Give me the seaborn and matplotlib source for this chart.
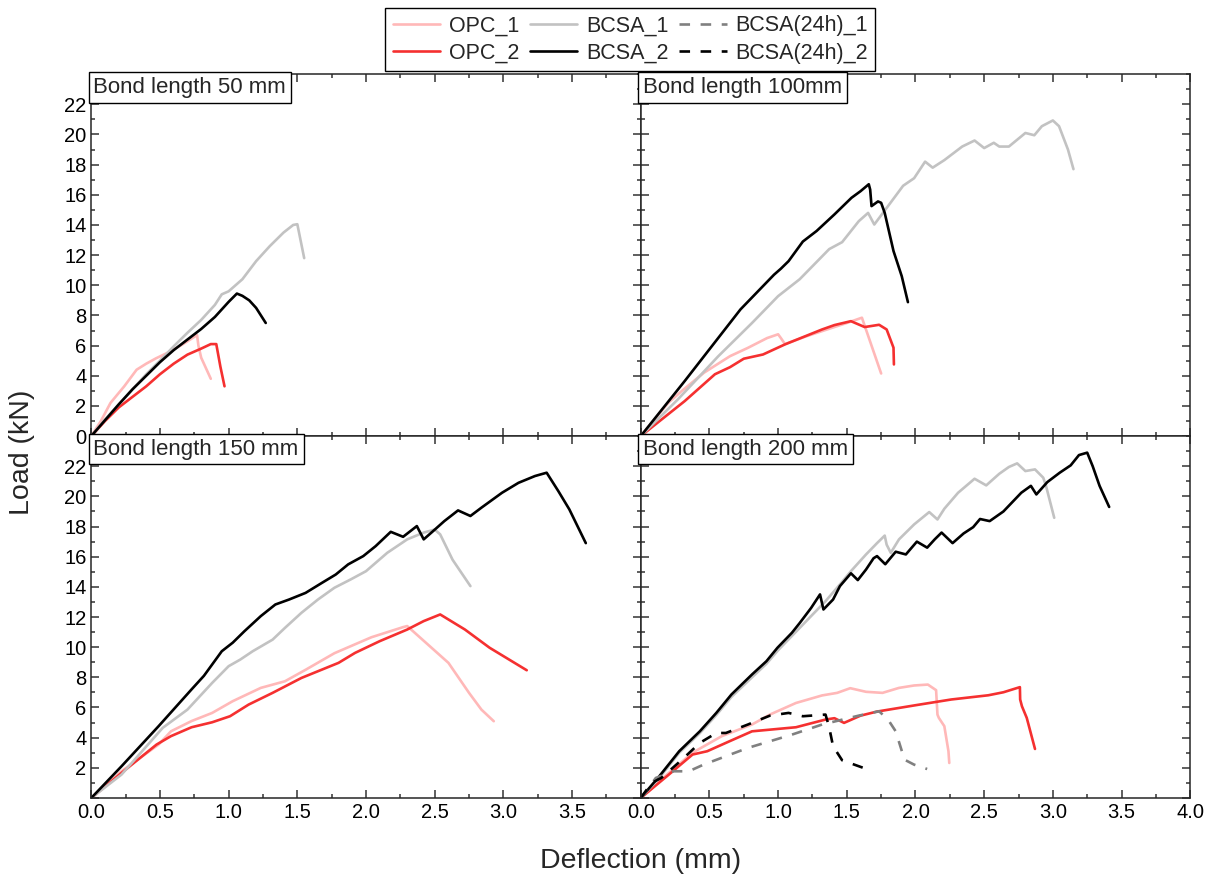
import numpy as np
import pandas as pd
import seaborn as sns
import matplotlib.pyplot as plt
from matplotlib.lines import Line2D
from matplotlib.ticker import MultipleLocator

# ---- data (deflection mm, load kN) ----
# Bond length 50 mm
x50_opc1 = [0, 0.07, 0.14, 0.24, 0.33, 0.4, 0.47, 0.55, 0.65, 0.72, 0.77, 0.78, 0.8, 0.83, 0.87]
y50_opc1 = [0, 1.0, 2.2, 3.3, 4.4, 4.8, 5.15, 5.5, 6.0, 6.4, 6.7, 6.0, 5.2, 4.6, 3.8]
x50_opc2 = [0, 0.1, 0.2, 0.3, 0.4, 0.5, 0.6, 0.7, 0.8, 0.87, 0.91, 0.94, 0.97]
y50_opc2 = [0, 1.0, 1.9, 2.6, 3.3, 4.1, 4.8, 5.4, 5.8, 6.1, 6.1, 4.6, 3.3]
x50_bcsa1 = [0, 0.1, 0.2, 0.3, 0.4, 0.5, 0.6, 0.7, 0.8, 0.9, 0.95, 1.0, 1.05, 1.1, 1.2, 1.3, 1.4, 1.47, 1.5, 1.53, 1.55]
y50_bcsa1 = [0, 1.1, 2.1, 3.1, 4.1, 5.0, 5.95, 6.85, 7.7, 8.7, 9.4, 9.6, 10.0, 10.4, 11.6, 12.6, 13.5, 14.0, 14.05, 12.7, 11.8]
x50_bcsa2 = [0, 0.1, 0.2, 0.3, 0.4, 0.5, 0.6, 0.7, 0.8, 0.9, 0.95, 1.0, 1.06, 1.1, 1.15, 1.2, 1.27]
y50_bcsa2 = [0, 1.05, 2.1, 3.1, 4.0, 4.9, 5.7, 6.4, 7.1, 7.9, 8.4, 8.9, 9.45, 9.3, 9.0, 8.5, 7.5]

# Bond length 100 mm
x100_opc1 = [0, 0.1, 0.2, 0.3, 0.46, 0.65, 0.78, 0.92, 1.0, 1.02, 1.05, 1.2, 1.35, 1.5, 1.61, 1.68, 1.75]
y100_opc1 = [0, 1.1, 2.2, 3.0, 4.2, 5.3, 5.85, 6.5, 6.75, 6.5, 6.1, 6.6, 7.05, 7.5, 7.85, 6.0, 4.15]
x100_opc2 = [0, 0.32, 0.54, 0.65, 0.75, 0.89, 1.05, 1.32, 1.41, 1.53, 1.63, 1.735, 1.79, 1.84, 1.843]
y100_opc2 = [0, 2.32, 4.1, 4.57, 5.13, 5.41, 6.08, 7.07, 7.36, 7.62, 7.23, 7.38, 7.07, 5.86, 4.75]
x100_bcsa1 = [0, 0.27, 0.565, 0.81, 1.0, 1.157, 1.372, 1.466, 1.587, 1.655, 1.70, 1.80, 1.91, 1.99, 2.07, 2.125,
              2.21, 2.34, 2.43, 2.50, 2.57, 2.61, 2.68, 2.80, 2.865, 2.92, 3.0, 3.045, 3.11, 3.15]
y100_bcsa1 = [0, 2.43, 5.3, 7.5, 9.28, 10.4, 12.4, 12.86, 14.25, 14.8, 14.03, 15.25, 16.6, 17.1, 18.2, 17.8,
              18.3, 19.2, 19.6, 19.1, 19.45, 19.2, 19.2, 20.1, 19.95, 20.55, 20.93, 20.55, 19.0, 17.7]
x100_bcsa2 = [0, 0.32, 0.726, 0.97, 1.02, 1.076, 1.18, 1.28, 1.41, 1.534, 1.60, 1.66, 1.67, 1.68, 1.727, 1.75,
              1.776, 1.84, 1.90, 1.945]
y100_bcsa2 = [0, 3.65, 8.4, 10.7, 11.1, 11.6, 12.9, 13.6, 14.7, 15.8, 16.24, 16.7, 16.35, 15.25, 15.56, 15.47,
              14.8, 12.27, 10.6, 8.88]

# Bond length 150 mm
x150_opc1 = [0, 0.22, 0.49, 0.58, 0.73, 0.88, 1.03, 1.234, 1.41, 1.56, 1.77, 2.04, 2.27, 2.30, 2.60, 2.75, 2.84, 2.93]
y150_opc1 = [0, 1.77, 3.54, 4.42, 5.1, 5.64, 6.42, 7.3, 7.74, 8.5, 9.6, 10.66, 11.33, 11.4, 8.96, 6.97, 5.86, 5.09]
x150_opc2 = [0, 0.22, 0.475, 0.58, 0.73, 0.88, 1.01, 1.145, 1.32, 1.53, 1.80, 1.92, 2.10, 2.30, 2.42, 2.54, 2.72, 2.90, 3.17]
y150_opc2 = [0, 1.66, 3.54, 4.1, 4.69, 5.02, 5.42, 6.19, 6.97, 7.96, 8.96, 9.62, 10.4, 11.17, 11.73, 12.17, 11.17, 9.96, 8.47]
x150_bcsa1 = [0, 0.22, 0.52, 0.70, 0.88, 1.0, 1.085, 1.175, 1.32, 1.41, 1.53, 1.65, 1.77, 1.89, 2.0, 2.155, 2.30,
              2.42, 2.50, 2.54, 2.63, 2.76]
y150_bcsa1 = [0, 1.55, 4.65, 5.86, 7.63, 8.74, 9.18, 9.73, 10.5, 11.28, 12.28, 13.16, 13.94, 14.5, 15.04, 16.26, 17.15,
              17.6, 17.8, 17.48, 15.8, 14.05]
x150_bcsa2 = [0, 0.22, 0.49, 0.73, 0.82, 0.95, 1.03, 1.115, 1.234, 1.34, 1.44, 1.56, 1.68, 1.78, 1.87, 1.98, 2.07,
              2.18, 2.27, 2.37, 2.42, 2.48, 2.57, 2.67, 2.76, 2.84, 2.99, 3.11, 3.23, 3.315, 3.40, 3.48, 3.60]
y150_bcsa2 = [0, 2.1, 4.76, 7.2, 8.1, 9.73, 10.3, 11.06, 12.06, 12.83, 13.16, 13.6, 14.27, 14.82, 15.49, 16.04, 16.7,
              17.65, 17.32, 18.03, 17.15, 17.63, 18.36, 19.07, 18.7, 19.25, 20.24, 20.9, 21.35, 21.57, 20.35, 19.14, 16.9]

# Bond length 200 mm
x200_opc1 = [0, 0.19, 0.377, 0.59, 0.81, 0.94, 1.13, 1.32, 1.43, 1.525, 1.64, 1.76, 1.88, 1.99, 2.09, 2.15, 2.16,
             2.17, 2.21, 2.24, 2.246]
y200_opc1 = [0, 1.55, 3.0, 4.1, 4.87, 5.53, 6.3, 6.8, 6.97, 7.28, 7.04, 6.97, 7.3, 7.46, 7.52, 7.15, 5.53,
             5.31, 4.76, 3.1, 2.32]
x200_opc2 = [0, 0.19, 0.377, 0.484, 0.646, 0.81, 1.13, 1.345, 1.41, 1.48, 1.60, 1.72, 2.0, 2.26, 2.53, 2.64, 2.76,
             2.762, 2.775, 2.81, 2.87]
y200_opc2 = [0, 1.44, 2.88, 3.1, 3.76, 4.42, 4.69, 5.2, 5.29, 4.98, 5.46, 5.73, 6.15, 6.53, 6.81, 7.01, 7.35,
             6.53, 6.08, 5.31, 3.25]
x200_bcsa1 = [0, 0.135, 0.28, 0.43, 0.55, 0.66, 0.81, 0.915, 1.0, 1.17, 1.345, 1.45, 1.53, 1.64, 1.72, 1.776, 1.79,
              1.82, 1.88, 1.99, 2.10, 2.16, 2.21, 2.31, 2.43, 2.515, 2.61, 2.68, 2.74, 2.80, 2.87, 2.93, 2.95, 3.01]
y200_bcsa1 = [0, 1.33, 3.0, 4.3, 5.5, 6.7, 8.0, 8.9, 9.8, 11.4, 13.05, 14.16, 15.04, 16.15, 16.9, 17.4, 16.8,
              16.26, 17.15, 18.14, 18.96, 18.47, 19.18, 20.24, 21.17, 20.73, 21.5, 21.95, 22.19, 21.68, 21.79, 21.24, 20.7, 18.58]
x200_bcsa2 = [0, 0.135, 0.28, 0.43, 0.55, 0.66, 0.81, 0.915, 0.995, 1.10, 1.157, 1.24, 1.305, 1.33, 1.40, 1.45,
              1.53, 1.58, 1.64, 1.695, 1.72, 1.78, 1.856, 1.93, 2.01, 2.085, 2.14, 2.19, 2.27, 2.35, 2.42, 2.47,
              2.54, 2.64, 2.77, 2.84, 2.88, 2.96, 3.05, 3.13, 3.19, 3.25, 3.29, 3.34, 3.41]
y200_bcsa2 = [0, 1.44, 3.1, 4.42, 5.64, 6.86, 8.19, 9.07, 9.96, 10.95, 11.6, 12.6, 13.5, 12.5, 13.16, 14.05,
              14.9, 14.45, 15.15, 15.9, 16.04, 15.5, 16.33, 16.15, 17.0, 16.6, 17.15, 17.6, 16.9, 17.54, 17.96, 18.5,
              18.36, 19.0, 20.24, 20.7, 20.13, 20.95, 21.57, 22.06, 22.74, 22.9, 22.0, 20.7, 19.3]
x200_24h1 = [0, 0.11, 0.24, 0.35, 0.457, 0.78, 1.10, 1.32, 1.587, 1.735, 1.80, 1.856, 1.92, 1.99, 2.085]
y200_24h1 = [0, 1.33, 1.77, 1.77, 2.21, 3.32, 4.2, 4.87, 5.46, 5.75, 5.2, 4.42, 2.54, 2.21, 1.92]
x200_24h2 = [0, 0.08, 0.15, 0.30, 0.43, 0.55, 0.62, 0.78, 0.94, 1.076, 1.18, 1.345, 1.37, 1.40, 1.466, 1.668]
y200_24h2 = [0, 1.0, 1.33, 2.54, 3.65, 4.31, 4.31, 4.87, 5.46, 5.64, 5.42, 5.53, 4.76, 3.43, 2.5, 1.84]

titles = ['Bond length 50 mm', 'Bond length 100mm', 'Bond length 150 mm', 'Bond length 200 mm']
labels = ['OPC_1', 'OPC_2', 'BCSA_1', 'BCSA_2', 'BCSA(24h)_1', 'BCSA(24h)_2']
xticks = [0.0, 0.5, 1.0, 1.5, 2.0, 2.5, 3.0, 3.5, 4.0]
yticks = list(range(0, 23, 2))

panels = [
    {'OPC_1': (x50_opc1, y50_opc1), 'OPC_2': (x50_opc2, y50_opc2),
     'BCSA_1': (x50_bcsa1, y50_bcsa1), 'BCSA_2': (x50_bcsa2, y50_bcsa2)},
    {'OPC_1': (x100_opc1, y100_opc1), 'OPC_2': (x100_opc2, y100_opc2),
     'BCSA_1': (x100_bcsa1, y100_bcsa1), 'BCSA_2': (x100_bcsa2, y100_bcsa2)},
    {'OPC_1': (x150_opc1, y150_opc1), 'OPC_2': (x150_opc2, y150_opc2),
     'BCSA_1': (x150_bcsa1, y150_bcsa1), 'BCSA_2': (x150_bcsa2, y150_bcsa2)},
    {'OPC_1': (x200_opc1, y200_opc1), 'OPC_2': (x200_opc2, y200_opc2),
     'BCSA_1': (x200_bcsa1, y200_bcsa1), 'BCSA_2': (x200_bcsa2, y200_bcsa2),
     'BCSA(24h)_1': (x200_24h1, y200_24h1), 'BCSA(24h)_2': (x200_24h2, y200_24h2)},
]

styles = {
    'OPC_1': dict(color='#FFB8B8', ls='-'),
    'OPC_2': dict(color='#F53030', ls='-'),
    'BCSA_1': dict(color='#C2C2C2', ls='-'),
    'BCSA_2': dict(color='black', ls='-'),
    'BCSA(24h)_1': dict(color='#808080', ls=(0, (4, 4))),
    'BCSA(24h)_2': dict(color='black', ls=(0, (4, 4))),
}
LW = 1.9

sns.set_theme(style='ticks')
plt.rcParams['font.family'] = ['Liberation Sans', 'DejaVu Sans']
plt.rcParams['axes.linewidth'] = 1.1

fig, axes = plt.subplots(2, 2, figsize=(12.17, 8.83), dpi=100)
fig.subplots_adjust(left=0.075, right=0.978, bottom=0.0963, top=0.916, hspace=0, wspace=0)

for i, ax in enumerate(axes.flat):
    for name, (xs, ys) in panels[i].items():
        st = styles[name]
        df = pd.DataFrame({'x': xs, 'y': ys})
        sns.lineplot(data=df, x='x', y='y', sort=False, estimator=None, ax=ax,
                     color=st['color'], linestyle=st['ls'], linewidth=LW)
    ax.set_xlim(0, 4.0)
    ax.set_ylim(0, 24)
    ax.set_xlabel('')
    ax.set_ylabel('')
    ax.set_xticks(xticks)
    ax.xaxis.set_minor_locator(MultipleLocator(0.25))
    ax.set_yticks(yticks)
    ax.yaxis.set_minor_locator(MultipleLocator(1))
    ax.tick_params(which='both', direction='in', top=True, right=True, labelsize=14.5, width=1.1,
                   color='#333333', labelcolor='black')
    ax.tick_params(which='major', length=6)
    ax.tick_params(which='minor', length=3)
    row, col = divmod(i, 2)
    xl = ['%.1f' % v for v in xticks]
    yl = [str(v) for v in yticks]
    if row == 0:
        xl = [''] * len(xticks)
    if col == 1:
        yl = [''] * len(yticks)
    if row == 1 and col == 0:
        xl[-1] = ''   # 4.0 would collide with the next panel's 0.0
        yl[0] = ''    # 0 would collide with the panel above
    ax.set_xticklabels(xl)
    ax.set_yticklabels(yl)
    ax.text(0.004, 0.993, titles[i], transform=ax.transAxes, ha='left', va='top', fontsize=16,
            bbox=dict(boxstyle='square,pad=0.22', fc='white', ec='black', lw=1.0), zorder=5)

fig.text(0.018, 0.488, 'Load (kN)', rotation=90, ha='center', va='center', fontsize=20.5)
fig.text(0.526, 0.025, 'Deflection (mm)', ha='center', va='center', fontsize=20.5)

handles = [Line2D([0], [0], color=styles[n]['color'], linestyle=styles[n]['ls'], linewidth=LW) for n in labels]
fig.legend(handles, labels, loc='upper center', bbox_to_anchor=(0.518, 0.991), ncol=3, fontsize=15.5,
           frameon=True, fancybox=False, edgecolor='black', framealpha=1, handlelength=2.2,
           columnspacing=0.5, labelspacing=0.3, borderpad=0.35, handletextpad=0.4, borderaxespad=0)

fig.savefig('out.png', dpi=100)
